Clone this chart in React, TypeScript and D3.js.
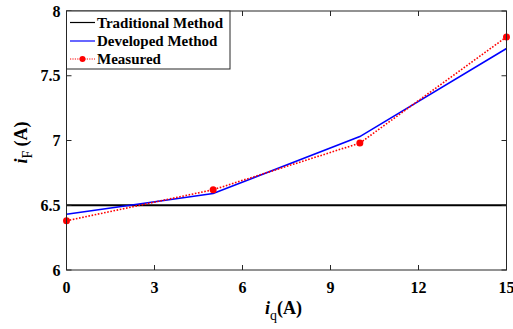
import React from "react";
import * as d3 from "d3";

// Field current i_F versus q-axis current i_q
const iq = [0, 5, 10, 15];
const traditional = [6.5, 6.5, 6.5, 6.5];
const developed = [6.43, 6.59, 7.03, 7.71];
const measured = [6.38, 6.62, 6.98, 7.8];
const xTicks = [0, 3, 6, 9, 12, 15];
const yTicks = [6, 6.5, 7, 7.5, 8];
const legendLabels = ["Traditional Method", "Developed Method", "Measured"];

const W = 513;
const H = 329;
const M = { left: 66.5, right: 506.5, top: 11, bottom: 270 };
const FONT = "'Liberation Serif', 'Times New Roman', serif";

export default function App() {
  const x = d3.scaleLinear().domain([0, 15]).range([M.left, M.right]);
  const y = d3.scaleLinear().domain([6, 8]).range([M.bottom, M.top]);
  const line = d3
    .line<number>()
    .x((_, i) => x(iq[i]))
    .y((d) => y(d));

  const tickLen = 5;
  const rowY = [22.5, 41, 59];

  return (
    <svg
      width={W}
      height={H}
      style={{ position: "absolute", left: 0, top: 0, background: "#fff" }}
      fontFamily={FONT}
    >
      <rect x={0} y={0} width={W} height={H} fill="#fff" />
      {/* series */}
      <path d={line(traditional) ?? ""} fill="none" stroke="#000" strokeWidth={2} />
      <path d={line(developed) ?? ""} fill="none" stroke="#0000ff" strokeWidth={1.6} />
      <path
        d={line(measured) ?? ""}
        fill="none"
        stroke="#ff0000"
        strokeWidth={1.6}
        strokeDasharray="1.6 1.6"
      />
      {measured.map((v, i) => (
        <circle key={i} cx={x(iq[i])} cy={y(v)} r={3.5} fill="#ff0000" />
      ))}

      {/* frame and ticks */}
      <rect
        x={M.left}
        y={M.top}
        width={M.right - M.left}
        height={M.bottom - M.top}
        fill="none"
        stroke="#262626"
        strokeWidth={1}
      />
      {xTicks.map((t) => (
        <g key={"x" + t}>
          <line x1={x(t)} x2={x(t)} y1={M.bottom} y2={M.bottom - tickLen} stroke="#262626" />
          <line x1={x(t)} x2={x(t)} y1={M.top} y2={M.top + tickLen} stroke="#262626" />
          <text x={x(t)} y={293} textAnchor="middle" fontSize={16} fontWeight="bold">
            {t}
          </text>
        </g>
      ))}
      {yTicks.map((t) => (
        <g key={"y" + t}>
          <line x1={M.left} x2={M.left + tickLen} y1={y(t)} y2={y(t)} stroke="#262626" />
          <line x1={M.right} x2={M.right - tickLen} y1={y(t)} y2={y(t)} stroke="#262626" />
          <text
            x={M.left - 6}
            y={y(t) + 5.5}
            textAnchor="end"
            fontSize={16}
            fontWeight="bold"
          >
            {t}
          </text>
        </g>
      ))}

      {/* axis titles */}
      <text x={265} y={314} fontSize={18} fontWeight="bold">
        <tspan fontStyle="italic">i</tspan>
        <tspan fontSize={14} fontWeight="normal" dy={6}>q</tspan>
        <tspan dy={-6}>(A)</tspan>
      </text>
      <text
        transform={`translate(27,142.5) rotate(-90)`}
        textAnchor="middle"
        fontSize={18}
        fontWeight="bold"
      >
        <tspan fontStyle="italic">i</tspan>
        <tspan fontSize={14} fontWeight="normal" dy={5}>F</tspan>
        <tspan dy={-5} dx={4}>(A)</tspan>
      </text>

      {/* legend */}
      <rect
        x={M.left}
        y={M.top}
        width={163.5}
        height={58}
        fill="#fff"
        stroke="#262626"
        strokeWidth={1}
      />
      {legendLabels.map((lab, i) => (
        <g key={lab}>
          {i === 0 && (
            <line x1={70} x2={95} y1={rowY[i]} y2={rowY[i]} stroke="#000" strokeWidth={1.2} />
          )}
          {i === 1 && (
            <line x1={70} x2={95} y1={rowY[i]} y2={rowY[i]} stroke="#0000ff" strokeWidth={1.2} />
          )}
          {i === 2 && (
            <>
              <line
                x1={70}
                x2={95}
                y1={rowY[i]}
                y2={rowY[i]}
                stroke="#ff0000"
                strokeWidth={1.2}
                strokeDasharray="1.2 1.2"
              />
              <circle cx={82.5} cy={rowY[i]} r={3} fill="#ff0000" />
            </>
          )}
          <text x={97} y={rowY[i] + 5} fontSize={15} fontWeight="bold">
            {lab}
          </text>
        </g>
      ))}
    </svg>
  );
}
